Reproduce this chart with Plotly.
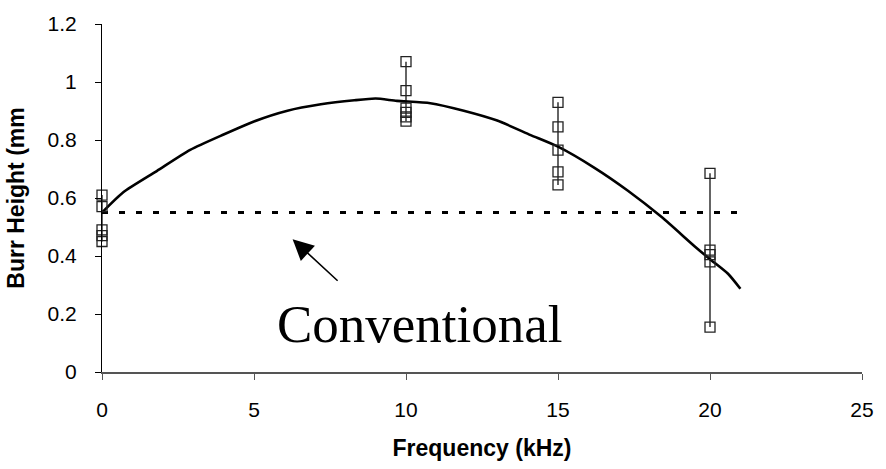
import plotly.graph_objects as go

# Measured burr heights (mm) at each frequency (kHz)
freq_0 = [0.61, 0.57, 0.49, 0.47, 0.45]
freq_10 = [1.07, 0.97, 0.91, 0.895, 0.88, 0.865]
freq_15 = [0.93, 0.845, 0.765, 0.69, 0.645]
freq_20 = [0.685, 0.42, 0.405, 0.38, 0.155]
frequencies = [0, 10, 15, 20]
groups = [freq_0, freq_10, freq_15, freq_20]

# Fitted trend curve
curve_x = [0, 0.7, 1.8, 2.9, 4.0, 5.0, 6.1, 7.2, 8.3, 9.0, 9.7, 10.8, 11.9,
           13.0, 14.1, 15.0, 16.2, 17.3, 18.4, 19.5, 20.0, 20.6, 21.0]
curve_y = [0.55, 0.62, 0.693, 0.766, 0.819, 0.864, 0.901, 0.923, 0.937, 0.943,
           0.935, 0.927, 0.901, 0.867, 0.817, 0.777, 0.704, 0.625, 0.535, 0.433,
           0.389, 0.338, 0.287]

# Conventional level
conv_x = [0, 21]
conv_y = [0.55, 0.55]

x_ticks = [0, 5, 10, 15, 20, 25]
y_ticks = [0, 0.2, 0.4, 0.6, 0.8, 1, 1.2]

fig = go.Figure()

# range bars (min to max)
bx, by = [], []
for f, g in zip(frequencies, groups):
    bx += [f, f, None]
    by += [min(g), max(g), None]
fig.add_trace(go.Scatter(x=bx, y=by, mode="lines",
                         line=dict(color="#111111", width=1.3),
                         hoverinfo="skip", showlegend=False))

fig.add_trace(go.Scatter(x=conv_x, y=conv_y, mode="lines",
                         line=dict(color="black", width=3, dash="6px,11px"),
                         showlegend=False))

fig.add_trace(go.Scatter(x=curve_x, y=curve_y, mode="lines",
                         line=dict(color="black", width=2.6, shape="spline", smoothing=0.6),
                         showlegend=False))

px, py = [], []
for f, g in zip(frequencies, groups):
    px += [f] * len(g)
    py += g
fig.add_trace(go.Scatter(x=px, y=py, mode="markers", cliponaxis=False,
                         marker=dict(symbol="square-open", size=10,
                                     color="#222222", line=dict(width=1.3, color="#222222")),
                         showlegend=False))

fig.add_annotation(x=6.27, y=0.458, ax=7.8, ay=0.31, xref="x", yref="y",
                   axref="x", ayref="y", text="", showarrow=True,
                   arrowhead=2, arrowsize=2.6, arrowwidth=1.6, arrowcolor="black")

fig.add_annotation(x=10.46, y=0.166, xref="x", yref="y", text="Conventional",
                   showarrow=False, xanchor="center", yanchor="middle",
                   font=dict(family="Liberation Serif", size=53, color="black"))

fig.update_layout(
    width=886, height=469,
    margin=dict(l=102, r=15, t=20, b=94),
    plot_bgcolor="white", paper_bgcolor="white",
    font=dict(family="Liberation Sans", color="black"),
)
fig.update_xaxes(range=[0, 25], tickvals=x_ticks, showgrid=False, zeroline=False,
                 showline=True, linecolor="#555555", linewidth=2,
                 ticks="outside", ticklen=6, tickcolor="#555555",
                 tickfont=dict(size=21), ticklabelstandoff=12,
                 title=dict(text="<b>Frequency (kHz)</b>", font=dict(size=23), standoff=20))
fig.update_yaxes(range=[0, 1.2], tickvals=y_ticks, showgrid=False, zeroline=False,
                 showline=True, linecolor="black", linewidth=1,
                 ticks="outside", ticklen=6, tickcolor="black",
                 tickfont=dict(size=21), ticklabelstandoff=14,
                 title=dict(text="<b>Burr Height (mm</b>", font=dict(size=23), standoff=16))

fig.write_html("out.html")
